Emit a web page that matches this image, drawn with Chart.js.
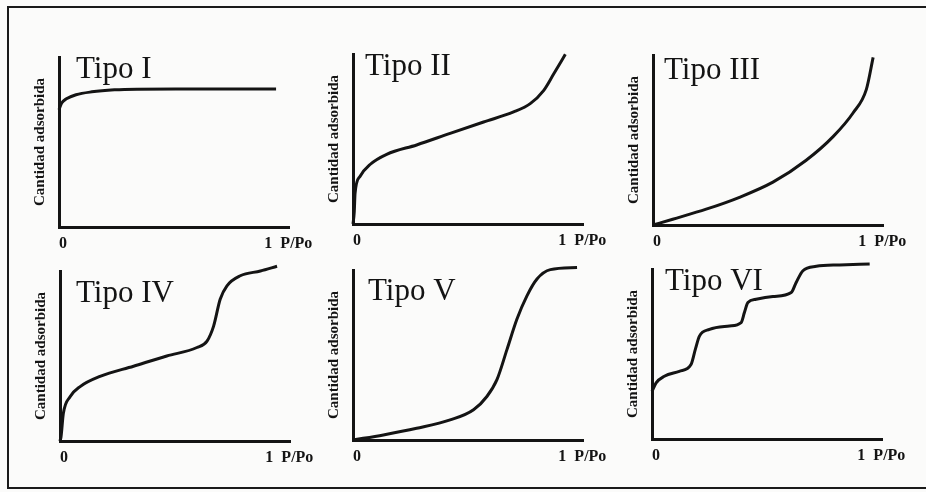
<!DOCTYPE html>
<html>
<head>
<meta charset="utf-8">
<script src="https://cdn.jsdelivr.net/npm/chart.js@4.4.0/dist/chart.umd.min.js"></script>
<style>
    html, body { margin: 0; padding: 0; width: 926px; height: 492px; overflow: hidden; background: #fbfbfa; }
    #frame { position: absolute; left: 7px; top: 6px; width: 917px; height: 479px; border-left: 2px solid #1a1a1a; border-top: 2px solid #1a1a1a; border-bottom: 2px solid #1a1a1a; }
    canvas { position: absolute; }
</style>
</head>
<body>
<div id="frame"></div>
<script>
// data (x in P/Po, y relative to the axis height)
var panelNames = ["Tipo I", "Tipo II", "Tipo III", "Tipo IV", "Tipo V", "Tipo VI"];
var xTickValues = [0, 1];
var xTickLabels = ["0", "1  P/Po"];
var yAxisTitle = "Cantidad adsorbida";

var tipo1X = [0, 0.013, 0.036, 0.083, 0.16, 0.27, 0.38, 0.6, 0.8, 1.057];
var tipo1Y = [0.69, 0.729, 0.754, 0.778, 0.795, 0.807, 0.811, 0.812, 0.812, 0.812];

var tipo2X = [0, 0.006, 0.01, 0.034, 0.083, 0.164, 0.31, 0.473, 0.636, 0.782, 0.863, 0.928, 0.977, 1.034];
var tipo2Y = [0.0, 0.07, 0.18, 0.28, 0.35, 0.41, 0.465, 0.533, 0.60, 0.659, 0.708, 0.785, 0.882, 0.998];

var tipo3X = [0, 0.096, 0.259, 0.421, 0.584, 0.746, 0.877, 0.974, 1.039, 1.072];
var tipo3Y = [0, 0.034, 0.093, 0.163, 0.252, 0.381, 0.52, 0.659, 0.798, 0.986];

var tipo4X = [0, 0.005, 0.016, 0.049, 0.098, 0.195, 0.358, 0.52, 0.667, 0.716, 0.748, 0.78, 0.813, 0.878, 0.976, 1.057];
var tipo4Y = [0, 0.025, 0.16, 0.26, 0.32, 0.38, 0.44, 0.50, 0.55, 0.588, 0.676, 0.834, 0.913, 0.972, 1.0, 1.028];

var tipo5X = [0, 0.148, 0.31, 0.473, 0.587, 0.652, 0.701, 0.75, 0.798, 0.847, 0.896, 0.961, 1.091];
var tipo5Y = [0, 0.03, 0.069, 0.118, 0.178, 0.256, 0.355, 0.533, 0.71, 0.848, 0.947, 1.002, 1.014];

var tipo6X = [0, 0.02, 0.06, 0.133, 0.19, 0.211, 0.231, 0.28, 0.377, 0.434, 0.45, 0.467, 0.507, 0.589, 0.678, 0.702, 0.735, 0.80, 0.914, 1.06];
var tipo6Y = [0.28, 0.33, 0.369, 0.398, 0.438, 0.527, 0.605, 0.645, 0.665, 0.685, 0.744, 0.803, 0.822, 0.838, 0.862, 0.921, 0.99, 1.016, 1.024, 1.03];

var seriesX = [tipo1X, tipo2X, tipo3X, tipo4X, tipo5X, tipo6X];
var seriesY = [tipo1Y, tipo2Y, tipo3Y, tipo4Y, tipo5Y, tipo6Y];

// where each small plot sits on the page (axis origin x, axis top y) and its label offset
var panelLayout = [
    { left: 59, top: 57, tx: 17, ty: 21 },
    { left: 353, top: 54, tx: 12, ty: 21 },
    { left: 653, top: 55, tx: 11, ty: 24 },
    { left: 60, top: 271, tx: 16, ty: 31 },
    { left: 353, top: 270, tx: 15, ty: 30 },
    { left: 652, top: 269, tx: 13, ty: 21 }
];

var PLOT_W = 230, PLOT_H = 170, AXIS_W = 30, AXIS_H = 30, PAD_TOP = 8, PAD_RIGHT = 45;

var panelTitle = {
    id: 'panelTitle',
    afterDraw: function (chart, args, opts) {
        var ctx = chart.ctx, area = chart.chartArea;
        ctx.save();
        ctx.font = '31px "Liberation Serif"';
        ctx.fillStyle = '#141414';
        ctx.textBaseline = 'alphabetic';
        ctx.fillText(opts.text, area.left + opts.dx, area.top + opts.dy);
        ctx.restore();
    }
};

function getChartJs(i) {
    var points = seriesX[i].map(function (x, k) { return { x: x, y: seriesY[i][k] }; });
    return {
        type: 'line',
        data: {
            datasets: [{
                data: points,
                borderColor: '#141414',
                borderWidth: 3,
                pointRadius: 0,
                fill: false,
                cubicInterpolationMode: 'monotone',
                clip: false
            }]
        },
        options: {
            responsive: false,
            animation: false,
            layout: { padding: { top: PAD_TOP, right: PAD_RIGHT, left: 0, bottom: 0 } },
            plugins: {
                legend: { display: false },
                tooltip: { enabled: false },
                panelTitle: { text: panelNames[i], dx: panelLayout[i].tx, dy: panelLayout[i].ty }
            },
            scales: {
                x: {
                    type: 'linear',
                    min: 0,
                    max: 1.12,
                    grid: { display: false, drawTicks: false },
                    border: { display: true, width: 3, color: '#141414' },
                    afterBuildTicks: function (scale) {
                        scale.ticks = xTickValues.map(function (v) { return { value: v }; });
                    },
                    afterFit: function (scale) { scale.height = AXIS_H; },
                    ticks: {
                        align: 'start',
                        padding: 7,
                        maxRotation: 0,
                        color: '#141414',
                        font: { family: '"Liberation Serif"', size: 16, weight: 'bold' },
                        callback: function (v) { return xTickLabels[xTickValues.indexOf(v)]; }
                    }
                },
                y: {
                    type: 'linear',
                    min: 0,
                    max: 1,
                    grid: { display: false, drawTicks: false },
                    border: { display: true, width: 3, color: '#141414' },
                    ticks: { display: false },
                    afterFit: function (scale) { scale.width = AXIS_W; },
                    title: {
                        display: true,
                        text: yAxisTitle,
                        color: '#141414',
                        padding: { top: 2, bottom: 0 },
                        font: { family: '"Liberation Serif"', size: 15, weight: 'bold' }
                    }
                }
            }
        },
        plugins: [panelTitle]
    };
}

panelNames.forEach(function (name, i) {
    var c = document.createElement('canvas');
    c.width = AXIS_W + PLOT_W + PAD_RIGHT;
    c.height = PAD_TOP + PLOT_H + AXIS_H;
    c.style.left = (panelLayout[i].left - AXIS_W) + 'px';
    c.style.top = (panelLayout[i].top - PAD_TOP) + 'px';
    document.body.appendChild(c);
    new Chart(c.getContext('2d'), getChartJs(i));
});
</script>
</body>
</html>
